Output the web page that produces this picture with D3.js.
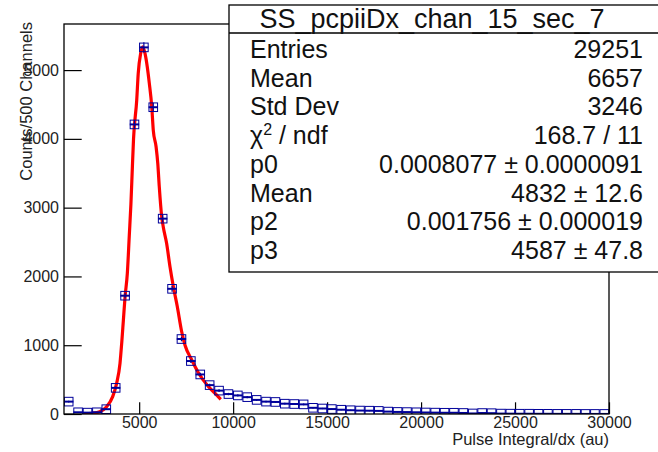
<!DOCTYPE html>
<html>
<head>
<meta charset="utf-8">
<script src="https://cdn.jsdelivr.net/npm/d3@7"></script>
<style>
	body { margin: 0; background: #fff; }
	svg { display: block; font-family: "Liberation Sans", Arial, Helvetica, sans-serif; }
</style>
</head>
<body>
<div id="graph-container"></div>
<script>
// histogram: 500 wide bins from 1000 to 30000
const binWidth = 500;
const binLow = d3.range(1000, 30000, binWidth);
const counts = [
	180, 25, 20, 25, 70, 380, 1720, 4210, 5330, 4460,
	2840, 1820, 1090, 770, 575, 420, 340, 290, 270, 245,
	205, 180, 175, 150, 145, 140, 90, 80, 72, 62,
	55, 50, 48, 45, 35, 30, 28, 25, 22, 20,
	18, 18, 15, 8, 14, 12, 6, 5, 4, 4,
	3, 3, 2, 2, 2, 1, 1, 1
];

// fitted curve
const fitX = [2050, 2500, 2900, 3270, 3590, 3800, 3980, 4070, 4160, 4250, 4370, 4475, 4560, 4640, 4700,
	4870, 4950, 5080, 5190, 5310, 5430, 5540, 5670, 5750, 5900, 5990, 6070, 6200, 6280, 6460,
	6640, 6820, 7030, 7260, 7440, 7800, 8150, 8680, 9040, 9340];
const fitY = [2, 10, 33, 106, 252, 446, 737, 1028, 1366, 1705, 2045, 2600, 3050, 3600, 4000,
	4564, 4952, 5243, 5339, 5243, 5049, 4806, 4467, 4128, 3885, 3644, 3304, 2868, 2722, 2481,
	2141, 1850, 1560, 1200, 1000, 785, 600, 400, 300, 213];

const xTicks = [5000, 10000, 15000, 20000, 25000, 30000];
const xMinor = d3.range(1000, 30001, 1000);
const yTicks = [0, 1000, 2000, 3000, 4000, 5000];
const yMinor = d3.range(0, 5601, 200);

const statsTitle = "SS_pcpiiDx_chan_15_sec_7";
const statsLabels = ["Entries", "Mean", "Std Dev", "χ2 / ndf", "p0", "Mean", "p2", "p3"];
const statsValues = ["29251", "6657", "3246", "168.7 / 11", "0.0008077 ± 0.0000091",
	"4832 ± 12.6", "0.001756 ± 0.000019", "4587 ± 47.8"];

document.addEventListener("DOMContentLoaded", function () {
	builder();
});

function builder() {
	const w = 658;
	const h = 452;
	const frame = { left: 64, right: 609, top: 24, bottom: 414 };
	const navy = "#00009a";

	const svg = d3
		.select("#graph-container")
		.append("svg")
		.attr("width", w)
		.attr("height", h)
		.attr("viewBox", `0 0 ${w} ${h}`);

	svg.append("rect").attr("width", w).attr("height", h).attr("fill", "#fff");

	// marks are clipped to the frame
	svg.append("clipPath")
		.attr("id", "frame-clip")
		.append("rect")
		.attr("x", frame.left)
		.attr("y", frame.top)
		.attr("width", frame.right - frame.left)
		.attr("height", frame.bottom - frame.top);

	const x = d3.scaleLinear().domain([1000, 30000]).range([frame.left, frame.right]);
	const y = d3.scaleLinear().domain([0, 5670]).range([frame.bottom, frame.top]);

	// ticks point inward like ROOT
	const xAxis = svg.append("g").attr("transform", `translate(0,${frame.bottom})`);
	xAxis.call(d3.axisBottom(x).tickValues(xMinor).tickSizeInner(-5.9).tickSizeOuter(0).tickFormat(""));
	xAxis.call(d3.axisBottom(x).tickValues(xTicks).tickSizeInner(-11.7).tickSizeOuter(0)
		.tickPadding(3).tickFormat(d3.format("d")));
	xAxis.selectAll(".domain").remove();

	const yAxis = svg.append("g").attr("transform", `translate(${frame.left},0)`);
	yAxis.call(d3.axisLeft(y).tickValues(yMinor).tickSizeInner(-8.8).tickSizeOuter(0).tickFormat(""));
	yAxis.call(d3.axisLeft(y).tickValues(yTicks).tickSizeInner(-17.7).tickSizeOuter(0)
		.tickPadding(5).tickFormat(d3.format("d")));
	yAxis.selectAll(".domain").remove();

	svg.selectAll(".tick line").attr("stroke", "#000").attr("stroke-width", 1.2);
	svg.selectAll(".tick text")
		.attr("fill", "#222")
		.style("font-family", "'Liberation Sans', Arial, sans-serif")
		.style("font-size", "16px");

	// fit function
	const plot = svg.append("g").attr("clip-path", "url(#frame-clip)");
	const line = d3.line()
		.x((d, i) => x(fitX[i]))
		.y((d) => y(d))
		.curve(d3.curveMonotoneX);
	plot.append("path")
		.datum(fitY)
		.attr("d", line)
		.attr("fill", "none")
		.attr("stroke", "#ff0000")
		.attr("stroke-width", 3.2);

	// histogram points with error bars
	const pts = plot.append("g")
		.selectAll("g")
		.data(counts)
		.enter()
		.append("g")
		.attr("stroke", navy)
		.attr("fill", "none");
	pts.append("line")
		.attr("x1", (d, i) => x(binLow[i]))
		.attr("x2", (d, i) => x(binLow[i] + binWidth))
		.attr("y1", (d) => y(d))
		.attr("y2", (d) => y(d))
		.attr("stroke-width", 2);
	pts.append("line")
		.attr("x1", (d, i) => x(binLow[i] + binWidth / 2))
		.attr("x2", (d, i) => x(binLow[i] + binWidth / 2))
		.attr("y1", (d) => y(d + Math.sqrt(d)))
		.attr("y2", (d) => y(Math.max(0, d - Math.sqrt(d))))
		.attr("stroke-width", 1.2);
	pts.append("rect")
		.attr("x", (d, i) => x(binLow[i] + binWidth / 2) - 4.3)
		.attr("y", (d) => y(d) - 4.3)
		.attr("width", 8.6)
		.attr("height", 8.6)
		.attr("stroke-width", 1);

	// frame
	svg.append("rect")
		.attr("x", frame.left)
		.attr("y", frame.top)
		.attr("width", frame.right - frame.left)
		.attr("height", frame.bottom - frame.top)
		.attr("fill", "none")
		.attr("stroke", "#000")
		.attr("stroke-width", 1.3);

	// axis titles
	svg.append("text")
		.attr("x", frame.right)
		.attr("y", 445)
		.attr("text-anchor", "end")
		.style("font-size", "16.5px")
		.attr("fill", "#222")
		.text("Pulse Integral/dx (au)");
	svg.append("text")
		.attr("transform", "translate(32,22) rotate(-90)")
		.attr("text-anchor", "end")
		.style("font-size", "16.5px")
		.attr("fill", "#222")
		.text("Counts/500 Channels");

	// stats box
	const box = svg.append("g");
	box.append("rect")
		.attr("x", 229)
		.attr("y", 5)
		.attr("width", 440)
		.attr("height", 267)
		.attr("fill", "#fff")
		.attr("stroke", "#000")
		.attr("stroke-width", 1.3);
	box.append("line")
		.attr("x1", 229).attr("x2", 658)
		.attr("y1", 33).attr("y2", 33)
		.attr("stroke", "#000")
		.attr("stroke-width", 1.3);
	box.append("text")
		.attr("x", 432)
		.attr("y", 28)
		.attr("text-anchor", "middle")
		.style("font-size", "27px")
		.attr("fill", "#111")
		.text(statsTitle);

	statsLabels.forEach((lab, i) => {
		const by = 58 + i * 28.7;
		const t = box.append("text")
			.attr("x", 250)
			.attr("y", by)
			.style("font-size", "25px")
			.attr("fill", "#111");
		if (lab.startsWith("χ2")) {
			t.append("tspan").text("χ");
			t.append("tspan").attr("dy", -9).style("font-size", "16px").text("2");
			t.append("tspan").attr("dy", 9).text(" / ndf");
		} else {
			t.text(lab);
		}
		box.append("text")
			.attr("x", 643)
			.attr("y", by)
			.attr("text-anchor", "end")
			.style("font-size", "25px")
			.attr("fill", "#111")
			.text(statsValues[i]);
	});
}
</script>
</body>
</html>
